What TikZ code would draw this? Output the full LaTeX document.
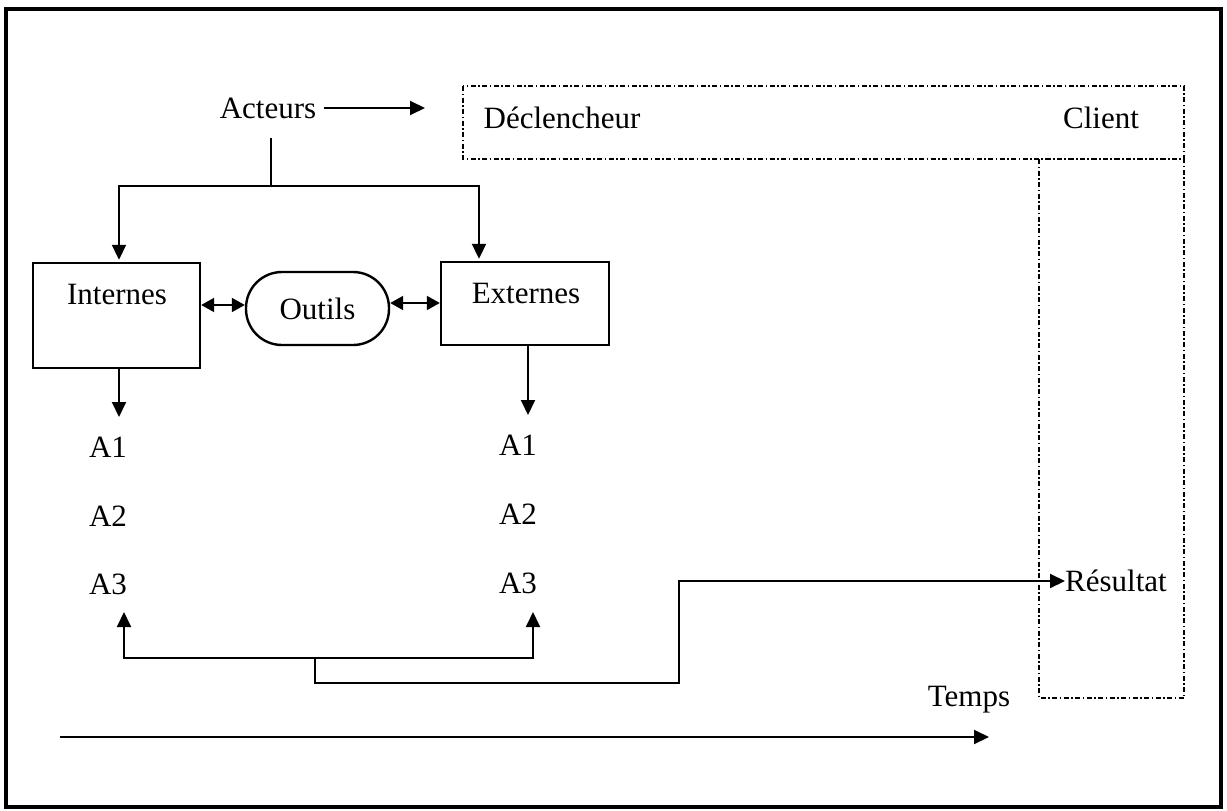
\documentclass[tikz,border=0pt]{standalone}
\usepackage{fontspec}
\setmainfont{Liberation Serif}
\usetikzlibrary{arrows.meta}
\begin{document}
\begin{tikzpicture}[x=1pt,y=-1pt,
  every node/.style={font=\fontsize{31}{36}\selectfont, inner sep=0pt},
  conn/.style={line width=2pt},
  tip/.style={-{Triangle[length=15pt,width=14pt]}},
  dbl/.style={{Triangle[length=13pt,width=14pt]}-{Triangle[length=13pt,width=14pt]}},
  boxed/.style={draw, line width=2.4pt, inner sep=0pt},
  dashdot/.style={line width=1.6pt, dash pattern=on 5pt off 2.5pt on 1.5pt off 2.5pt}
]
\useasboundingbox (0,0) rectangle (1227,811);
% outer frame
\draw[line width=4pt] (6,9) rectangle (1221,807);

% trigger / client zone
\draw[dashdot] (463,86) rectangle (1184,159);
\draw[dashdot] (1039,159) rectangle (1184,698);
\node (dec) at (562,118) {Déclencheur};
\node (cli) at (1101,118) {Client};
\node (res) at (1116,581) {Résultat};

% actors
\node (act) at (268,108) {Acteurs};
\coordinate (actR) at (425,108);
\draw[conn,tip] ([xshift=8pt]act.east) -- (actR);

\node[boxed, minimum width=167pt, minimum height=105pt] (int) at (116.5,315.5) {};
\node (intlbl) at (117,294) {Internes};
\node[boxed, minimum width=168pt, minimum height=83pt] (ext) at (525,303.5) {};
\node (extlbl) at (526,293) {Externes};
\node[boxed, rounded corners=36pt, minimum width=143pt, minimum height=73pt] (out) at (317.5,308.5) {Outils};

\coordinate (actfoot) at (271,138);
\coordinate (split) at (271,186);
\draw[conn] (actfoot) -- (split);
\draw[conn,tip] (split) -| ([xshift=2.5pt,yshift=2pt]int.north);
\draw[conn,tip] (split) -| ([xshift=-46pt,yshift=2pt]ext.north);

\draw[conn,dbl] (int.east |- 0,305) -- (out.west |- 0,305);
\draw[conn,dbl] (out.east |- 0,303) -- (ext.west |- 0,303);

% activities
\node (ia1) at (108,447) {A1};
\node (ia2) at (108,516) {A2};
\node (ia3) at (108,584) {A3};
\node (ea1) at (518,445) {A1};
\node (ea2) at (518,514) {A2};
\node (ea3) at (518,583) {A3};

\coordinate (idown) at (119,417);
\coordinate (edown) at (528,415);
\draw[conn,tip] ([xshift=2.5pt]int.south) -- (idown);
\draw[conn,tip] ([xshift=3pt]ext.south) -- (edown);

% feedback to activities and result
\coordinate (fb) at (315,658);
\coordinate (iup) at (124,612);
\coordinate (eup) at (533,612);
\draw[conn,tip] (fb) -| (iup);
\draw[conn,tip] (fb) -| (eup);
\coordinate (fb1) at (315,683);
\coordinate (fb2) at (679,683);
\draw[conn,tip] (fb) -- (fb1) -- (fb2) |- (res.west);

% time axis
\node (tps) at (969,700) {Temps};
\coordinate (t0) at (60,737);
\coordinate (t1) at (989,737);
\draw[conn,tip] (t0) -- (t1);
\end{tikzpicture}
\end{document}
